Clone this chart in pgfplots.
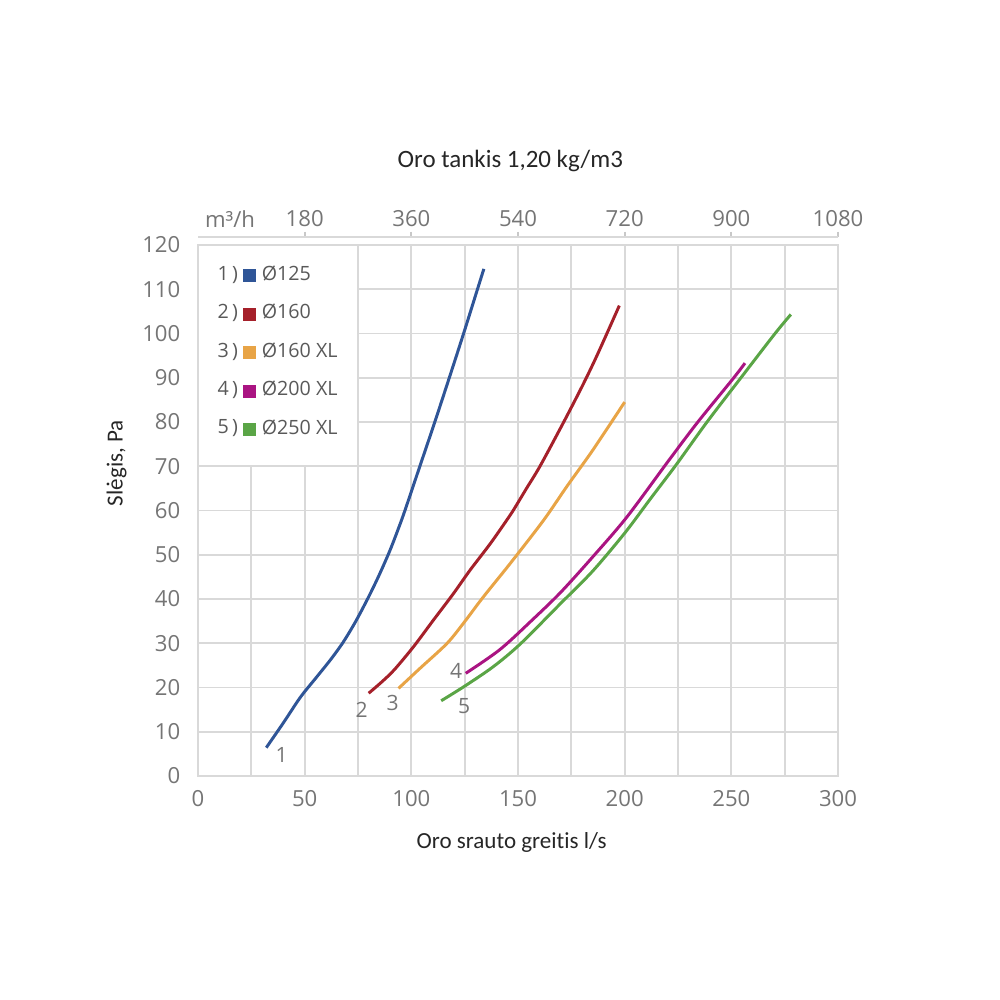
\documentclass[border=0pt]{standalone}
\usepackage{fontspec}
\setmainfont{Carlito}[Ligatures=NoCommon]
\newfontfamily\tickfont{Open Sans}
\usepackage{pgfplots}
\pgfplotsset{compat=1.18}
\definecolor{gridc}{HTML}{D9D9D9}
\definecolor{topt}{HTML}{C8C8C8}
\definecolor{c1}{HTML}{2F5597}
\definecolor{c2}{HTML}{A5202A}
\definecolor{c3}{HTML}{E8A446}
\definecolor{c4}{HTML}{AA1482}
\definecolor{c5}{HTML}{5AA546}
\definecolor{tickc}{HTML}{757575}
\definecolor{legc}{HTML}{595959}
\definecolor{titc}{HTML}{262626}
\newcommand{\tf}{\tickfont\fontsize{6.3}{7}\selectfont}
\newcommand{\lf}{\tickfont\fontsize{5.6}{6}\selectfont}
\newcommand{\nf}{\tickfont\fontsize{6.0}{7}\selectfont}
\pgfplotsset{
  legimg/.style n args={2}{legend image code/.code={%
    \node[overlay, anchor=east, inner sep=0pt, font=\lf, text=legc] at (-0.05cm,0cm) {#1\,)};
    \fill[#2] (0cm,-0.05cm) rectangle (0.1cm,0.05cm);}},
}
\begin{document}
\begin{tikzpicture}
\path[use as bounding box] (0,0) rectangle (10,10);
\begin{axis}[
  at={(1.98cm,2.24cm)}, anchor=south west,
  scale only axis, width=6.40cm, height=5.31cm, clip=false,
  xmin=0, xmax=300, ymin=0, ymax=120,
  xtick={0,50,...,300}, minor xtick={25,75,...,275},
  ytick={0,10,...,120},
  grid=both,
  major grid style={gridc, line width=0.5pt},
  minor grid style={gridc, line width=0.5pt},
  axis line style={gridc, line width=0.5pt},
  major tick length=0pt, minor tick length=0pt,
  tick label style={font=\tf, text=tickc},
  /pgf/number format/assume math mode=true,
  yticklabel style={anchor=east, inner sep=0pt, xshift=-0.17cm},
  xticklabel style={anchor=north, inner sep=0pt, yshift=-0.14cm},
  xlabel={Oro srauto greitis l/s}, ylabel={Slėgis, Pa},
  label style={font=\fontsize{6.55}{8}\selectfont, text=titc},
  xlabel style={at={(axis description cs:0.49,-0.126)}, anchor=center},
  ylabel style={at={(axis description cs:-0.127,0.589)}, anchor=center},
  legend style={at={(axis description cs:0.069,0.962)}, anchor=north west,
    draw=none, fill=none, font=\lf, text=legc, inner sep=0pt,
    row sep=0.185cm, column sep=0.06cm, nodes={inner sep=0pt, anchor=west}},
  legend cell align=left,
]
\addplot[fill=white, draw=gridc, line width=0.5pt, forget plot]
  coordinates {(0,70) (75,70) (75,120) (0,120) (0,70)};

\addplot[c1, line width=0.85pt, smooth, legimg={1}{c1}] coordinates {
(32,6.4) (40,12) (48,17.8) (55,22) (62,26.2) (68,30.2) (74,35) (80,40.5) (85,45.5)
(90,51) (94,56) (97,60) (104,70) (111,80) (117.8,90) (124.5,100) (131,110) (134,114.6)};
\addlegendentry{Ø125}

\addplot[c2, line width=0.85pt, smooth, legimg={2}{c2}] coordinates {
(80,18.7) (86,21.2) (92,24) (101,29.2) (110.3,35.2) (119.7,41.2) (127.5,46.5) (137,52.5)
(144.7,57.8) (148,60.2) (154,65) (160.3,70) (171,79.6) (180,88) (187,95) (197.5,106.3)};
\addlegendentry{Ø160}

\addplot[c3, line width=0.85pt, smooth, legimg={3}{c3}] coordinates {
(94,19.8) (104,24.3) (116.6,29.9) (124.4,34.5) (133.8,40.5) (146.3,48) (162,57.8)
(173,65.5) (185,73.6) (200,84.5)};
\addlegendentry{Ø160 XL}

\addplot[c4, line width=0.85pt, smooth, legimg={4}{c4}] coordinates {
(125.5,23.2) (141.6,28.6) (157.2,35.5) (170,41.5) (185,49.5) (201,58.5) (220.5,71.2)
(234.3,80) (250.5,89.6) (256.4,93.3)};
\addlegendentry{Ø200 XL}

\addplot[c5, line width=0.85pt, smooth, legimg={5}{c5}] coordinates {
(114,17) (125,20.3) (138.4,24.7) (151,29.8) (170,39) (185,46.3) (200.2,55) (212,62.6)
(224.4,70.5) (238.6,80) (254.5,90) (270.5,100) (277.9,104.3)};
\addlegendentry{Ø250 XL}

\node[font=\nf, text=tickc] at (axis cs:39.2,4.7) {1};
\node[font=\nf, text=tickc] at (axis cs:76.7,14.9) {2};
\node[font=\nf, text=tickc] at (axis cs:91.3,16.6) {3};
\node[font=\nf, text=tickc] at (axis cs:121,23.8) {4};
\node[font=\nf, text=tickc] at (axis cs:124.7,15.8) {5};

\node[font=\fontsize{7.1}{8}\selectfont, text=titc] at (axis description cs:0.488,1.158) {Oro tankis 1,20 kg/m3};
\end{axis}

\begin{axis}[
  at={(1.98cm,2.323cm)}, anchor=south west,
  scale only axis, width=6.40cm, height=5.31cm, clip=false,
  xmin=0, xmax=300, ymin=0, ymax=1,
  axis x line*=top, axis y line=none,
  xtick={50,100,...,300}, xticklabels={180,360,540,720,900,1080},
  tick align=outside, major tick length=0.05cm,
  tick style={topt, line width=0.5pt},
  axis line style={gridc, line width=0.5pt},
  tick label style={font=\tf, text=tickc},
  xticklabel style={anchor=south, inner sep=0pt, yshift=0.04cm},
]
\node[font=\tf, text=tickc, anchor=base, inner sep=0pt] at (axis description cs:0.05,1) [yshift=0.09cm] {m³/h};
\end{axis}
\end{tikzpicture}
\end{document}
